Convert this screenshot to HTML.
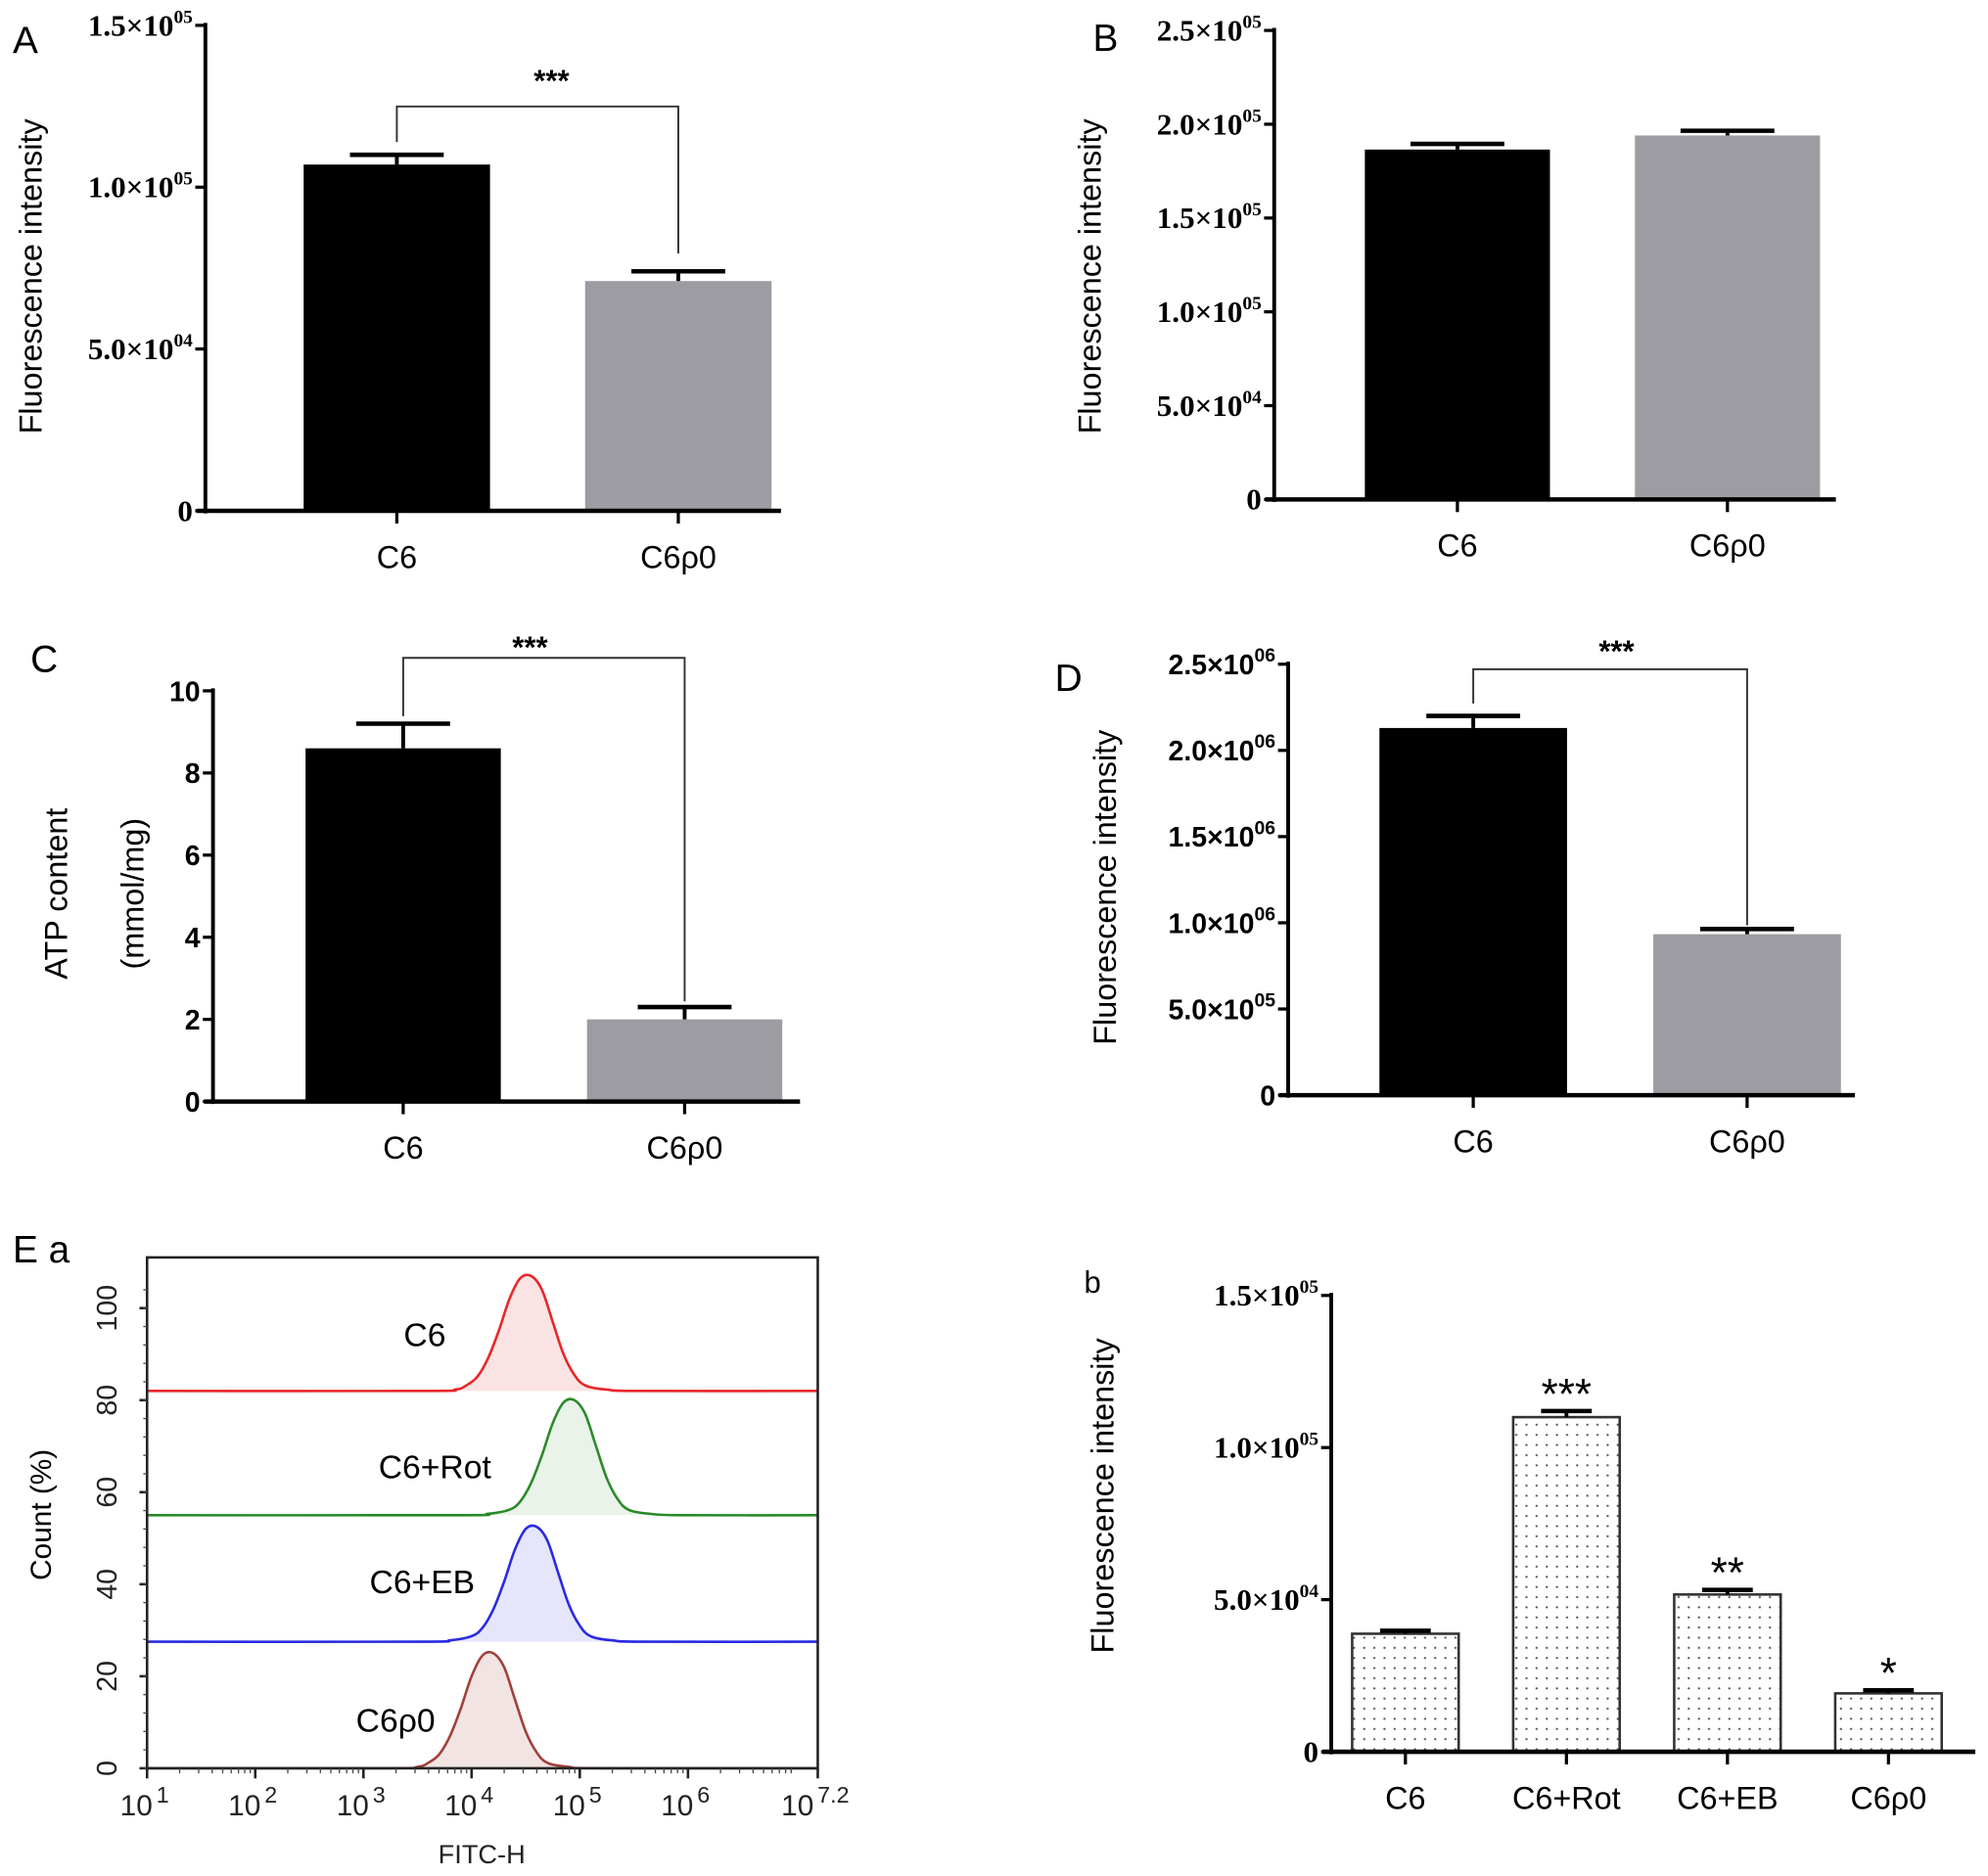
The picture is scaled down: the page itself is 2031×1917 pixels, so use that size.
<!DOCTYPE html>
<html><head><meta charset="utf-8"><style>
html,body{margin:0;padding:0;background:#fff;}
svg{display:block;}
text{font-family:"Liberation Sans",sans-serif;}
.tk{font-family:"Liberation Serif",serif;font-weight:bold;font-size:24px;}
.tks{font-family:"Liberation Sans",sans-serif;font-weight:bold;font-size:22px;}
.cat{font-size:25px;}
.ttl{font-size:24px;}
</style></head><body>
<svg id="fig" width="2031" height="1917" viewBox="0 0 1568 1480" preserveAspectRatio="none" xmlns="http://www.w3.org/2000/svg">
<defs>
<pattern id="dots" width="8" height="8" patternUnits="userSpaceOnUse"><rect width="8" height="8" fill="#fff"/><circle cx="4" cy="4" r="0.9" fill="#555"/></pattern>
</defs>
</svg>
<script>
// ---- data ----
const catsA=["C6","C6ρ0"], valsA=[1.07e5,0.71e5], errA=[0.03e5,0.03e5];
const ticksA=[0,5e4,1e5,1.5e5], tickLabA=["0","5.0×10|04","1.0×10|05","1.5×10|05"];
const catsB=["C6","C6ρ0"], valsB=[1.865e5,1.94e5], errB=[0.03e5,0.025e5];
const ticksB=[0,5e4,1e5,1.5e5,2e5,2.5e5], tickLabB=["0","5.0×10|04","1.0×10|05","1.5×10|05","2.0×10|05","2.5×10|05"];
const catsC=["C6","C6ρ0"], valsC=[8.6,2.0], errC=[0.6,0.3];
const ticksC=[0,2,4,6,8,10], tickLabC=["0","2","4","6","8","10"];
const catsD=["C6","C6ρ0"], valsD=[2.13e6,0.934e6], errD=[0.07e6,0.03e6];
const ticksD=[0,5e5,1e6,1.5e6,2e6,2.5e6], tickLabD=["0","5.0×10|05","1.0×10|06","1.5×10|06","2.0×10|06","2.5×10|06"];
const catsEb=["C6","C6+Rot","C6+EB","C6ρ0"], valsEb=[3.88e4,1.10e5,5.17e4,1.92e4], errEb=[0.1e4,0.2e4,0.15e4,0.1e4];
const starsEb=["","***","**","*"];
const ticksEb=[0,5e4,1e5,1.5e5], tickLabEb=["0","5.0×10|04","1.0×10|05","1.5×10|05"];
// flow histograms: log10 positions and counts (% above offset)
const histNames=["C6","C6+Rot","C6+EB","C6ρ0"];
const histOffsets=[82,55,27.5,0];
const histColors=["#e8262a","#2a8a2a","#2a2ae0","#a0403a"];
const histFills=["rgba(232,38,42,0.13)","rgba(42,138,42,0.1)","rgba(42,42,224,0.12)","rgba(160,64,58,0.14)"];
const histX0=[3.55,3.85,3.95,4.05,4.15,4.25,4.35,4.45,4.55,4.65,4.75,4.85,4.95,5.05,5.25,5.55];
const histY0=[0,0.3,1.2,3,7,13,20,24.5,25,22,15,8,3.5,1.2,0.3,0];
const histX1=[3.85,4.15,4.35,4.45,4.55,4.65,4.75,4.85,4.95,5.05,5.15,5.25,5.35,5.45,5.65,5.95];
const histY1=[0,0.3,1.2,3,7,13,20,24.5,25,22,15,8,3.5,1.2,0.3,0];
const histX2=[3.5,3.8,4.0,4.1,4.2,4.3,4.4,4.5,4.6,4.7,4.8,4.9,5.0,5.1,5.3,5.6];
const histY2=[0,0.3,1.2,3,7,13,20,24.5,25,22,15,8,3.5,1.2,0.3,0];
const histX3=[3.2,3.5,3.6,3.7,3.8,3.9,4.0,4.1,4.2,4.3,4.4,4.5,4.6,4.7,4.9,5.2];
const histY3=[0,0.3,1.2,3,7,13,20,24.5,25,22,15,8,3.5,1.2,0.3,0];
const histLabelPos=[[335,1062],[343,1166],[333,1257],[312,1366]];
const xTicksE=[1,2,3,4,5,6,7.2], xTickLabE=["1","2","3","4","5","6","7.2"];
const yTicksE=[0,20,40,60,80,100];

const svg=document.getElementById('fig');
const NS="http://www.w3.org/2000/svg";
function el(tag,attrs,parent){const e=document.createElementNS(NS,tag);for(const k in attrs)e.setAttribute(k,attrs[k]);(parent||svg).appendChild(e);return e;}
function txt(s,x,y,cls,anchor,parent){const t=el('text',{x:x,y:y,'class':cls||'','text-anchor':anchor||'middle'},parent);t.textContent=s;return t;}
function sciLabel(lab,x,y,cls,g){
  const t=el('text',{x:x,y:y,'class':cls,'text-anchor':'end'},g);
  const p=lab.split('|');
  if(p.length===1){t.textContent=p[0];return t;}
  const a=document.createElementNS(NS,'tspan');a.textContent=p[0];t.appendChild(a);
  const b=document.createElementNS(NS,'tspan');b.setAttribute('dy','-10');b.setAttribute('font-size','15');b.textContent=p[1];t.appendChild(b);
  return t;
}
function bar(cfg){
  const g=el('g',{});
  
  
  const y=v=>cfg.y0-(v-0)/(cfg.ymax)*(cfg.y0-cfg.ytop);
  const xc=i=>cfg.x0+cfg.step*(i+0.5)+cfg.pad;
  cfg.vals.forEach((v,i)=>{
    const r=el('rect',{x:xc(i)-cfg.bw/2,y:y(v),width:cfg.bw,height:cfg.y0-y(v),fill:cfg.fills[i],stroke:cfg.stroke||'none','stroke-width':cfg.stroke?2:0},g);
    
    
    const e=y(v+cfg.errs[i]);
    el('line',{x1:xc(i),x2:xc(i),y1:y(v),y2:e,stroke:'#000','stroke-width':3},g);
    el('line',{x1:xc(i)-cfg.cw,x2:xc(i)+cfg.cw,y1:e,y2:e,stroke:'#000','stroke-width':3.5},g);
    el('line',{x1:xc(i),x2:xc(i),y1:cfg.y0,y2:cfg.y0+10,stroke:'#000','stroke-width':2.5},g);
    const lt=txt(cfg.cats[i],xc(i),cfg.y0+45,'cat','middle',g);
    
    
  });
  el('line',{x1:cfg.ax,x2:cfg.ax,y1:cfg.ytop-2,y2:cfg.y0+2,stroke:'#000','stroke-width':3},g);
  el('line',{x1:cfg.ax-7,x2:cfg.xend,y1:cfg.y0,y2:cfg.y0,stroke:'#000','stroke-width':3.5},g);
  cfg.ticks.forEach((t,i)=>{
    el('line',{x1:cfg.ax-8,x2:cfg.ax,y1:y(t),y2:y(t),stroke:'#000','stroke-width':2.5},g);
    const tl=sciLabel(cfg.tl[i],cfg.ax-10,y(t)+8,cfg.tcls,g);
    
    
  });
  return {g,y,xc};
}
function bracket(p,i,j,yb,dropI,dropJ,label,lx,ly){
  const d=`M${p.xc(i)},${dropI} V${yb} H${p.xc(j)} V${dropJ}`;
  el('path',{d:d,fill:'none',stroke:'#333','stroke-width':1.5},p.g);
  const s=txt(label,lx,ly,'','middle',p.g);s.setAttribute('font-size','24');s.setAttribute('font-weight','bold');
  
  
}
function rotLabel(s,x,y,parent,name,size){
  const t=el('text',{transform:`translate(${x},${y}) rotate(-90)`,'text-anchor':'middle','font-size':size||25},parent);
  t.textContent=s;
  
  
  return t;
}
function panelLetter(s,x,y){const t=txt(s,x,y,'','start');t.setAttribute('font-size','30');
  
  }

let pA=bar({name:'panel-a-chart',cats:catsA,vals:valsA,errs:errA,ticks:ticksA,tl:tickLabA,tcls:'tk',
  ax:162,xend:616,y0:403,ytop:20,ymax:1.5e5,x0:162,step:222,pad:40,bw:147,cw:37,fills:['#000','#9d9ca2']});
bracket(pA,0,1,84,112,200,'***',435,72);
rotLabel('Fluorescence intensity',33,218,svg,'y-axis-title-a');
panelLetter('A',10,42);
let pB=bar({name:'panel-b-chart',cats:catsB,vals:valsB,errs:errB,ticks:ticksB,tl:tickLabB,tcls:'tk',
  ax:1005,xend:1448,y0:394,ytop:24,ymax:2.5e5,x0:1005,step:213,pad:38,bw:146,cw:37,fills:['#000','#9d9ca2']});
rotLabel('Fluorescence intensity',868,218,svg,'y-axis-title-b');
panelLetter('B',862,40);
let pC=bar({name:'panel-c-chart',cats:catsC,vals:valsC,errs:errC,ticks:ticksC,tl:tickLabC,tcls:'tks',
  ax:168,xend:631,y0:869,ytop:545,ymax:10,x0:168,step:222,pad:39,bw:154,cw:37,fills:['#000','#9d9ca2']});
bracket(pC,0,1,519,565,790,'***',418,519);
rotLabel('ATP content',53,705,svg,'y-axis-title-c');
rotLabel('(mmol/mg)',113,705,svg,'y-axis-unit-c');
panelLetter('C',24,530);
let pD=bar({name:'panel-d-chart',cats:catsD,vals:valsD,errs:errD,ticks:ticksD,tl:tickLabD,tcls:'tks',
  ax:1016,xend:1463,y0:864,ytop:524,ymax:2.5e6,x0:1016,step:216,pad:38,bw:148,cw:37,fills:['#000','#9d9ca2']});
bracket(pD,0,1,528,555,730,'***',1275,522);
rotLabel('Fluorescence intensity',880,700,svg,'y-axis-title-d');
panelLetter('D',832,545);
let pEb=bar({name:'panel-eb-chart',cats:catsEb,vals:valsEb,errs:errEb,ticks:ticksEb,tl:tickLabEb,tcls:'tk',
  ax:1050,xend:1558,y0:1382,ytop:1022,ymax:1.5e5,x0:1050,step:127,pad:-5,bw:84,cw:20,fills:['url(#dots)','url(#dots)','url(#dots)','url(#dots)'],stroke:'#333'});
starsEb.forEach((s,i)=>{if(!s)return;const t=txt(s,pEb.xc(i),pEb.y(valsEb[i]+errEb[i])-2,'','middle',pEb.g);t.setAttribute('font-size','34');
  
  });
rotLabel('Fluorescence intensity',878,1180,svg,'y-axis-title-eb');
{const t=txt('b',855,1020,'','start');t.setAttribute('font-size','24');}

const gE=el('g',{});


const eL=116,eR=645,eT=992,eB=1395;
const ex=l=>eL+(l-1)/(7.2-1)*(eR-eL);
const ey=v=>eB-v/100*(eB-1032);
const HX=[histX0,histX1,histX2,histX3],HY=[histY0,histY1,histY2,histY3];
HX.forEach((xs,k)=>{
  const off=histOffsets[k];
  let pts=[[1,0]].concat(xs.map((l,i)=>[l,HY[k][i]])).concat([[7.2,0]]);
  const P=pts.map(p=>[ex(p[0]),ey(off+p[1])]);
  let d=`M${P[0][0]},${P[0][1]}`;
  for(let i=0;i<P.length-1;i++){const p0=P[Math.max(i-1,0)],p1=P[i],p2=P[i+1],p3=P[Math.min(i+2,P.length-1)];
    d+=` C${p1[0]+(p2[0]-p0[0])/6},${p1[1]+(p2[1]-p0[1])/6} ${p2[0]-(p3[0]-p1[0])/6},${p2[1]-(p3[1]-p1[1])/6} ${p2[0]},${p2[1]}`;}
  el('path',{d:d+` L${eR},${ey(off)} L${eL},${ey(off)} Z`,fill:histFills[k],stroke:'none'},gE);
  const c=el('path',{d:d,fill:'none',stroke:histColors[k],'stroke-width':2},gE);
  
  
  const lt=txt(histNames[k],histLabelPos[k][0],histLabelPos[k][1],'','middle',gE);lt.setAttribute('font-size','26');
  
  
});
el('rect',{x:eL,y:eT,width:eR-eL,height:eB-eT,fill:'none',stroke:'#222','stroke-width':2},gE);
yTicksE.forEach(v=>{
  el('line',{x1:eL-6,x2:eL,y1:ey(v),y2:ey(v),stroke:'#222','stroke-width':2},gE);
  const t=el('text',{transform:`translate(${eL-24},${ey(v)}) rotate(-90)`,'text-anchor':'middle','font-size':22,fill:'#222'},gE);t.textContent=v;
  
  
});
for(let v=0;v<=105;v+=4){el('line',{x1:eL-3,x2:eL,y1:ey(v),y2:ey(v),stroke:'#444','stroke-width':1},gE);}
xTicksE.forEach((l,i)=>{
  el('line',{x1:ex(l),x2:ex(l),y1:eB,y2:eB+8,stroke:'#222','stroke-width':2},gE);
  if(l<7.2){for(let m=2;m<10;m++){const xm=ex(l+Math.log10(m));el('line',{x1:xm,x2:xm,y1:eB,y2:eB+4,stroke:'#444','stroke-width':1},gE);}}
  const t=el('text',{x:ex(l)-2,y:eB+37,'text-anchor':'middle','font-size':23,fill:'#222'},gE);
  const a=document.createElementNS(NS,'tspan');a.textContent='10';t.appendChild(a);
  const b=document.createElementNS(NS,'tspan');b.setAttribute('dy','-10');b.setAttribute('font-size','18');b.setAttribute('dx','3');b.textContent=xTickLabE[i];t.appendChild(b);
  
  
});
{const t=txt('FITC-H',380,1470,'','middle',gE);t.setAttribute('font-size','21');t.setAttribute('fill','#222');}
rotLabel('Count  (%)',40,1195,gE,'y-axis-title-ea',23);
{const t=txt('E a',10,996,'','start');t.setAttribute('font-size','30');}
</script>
</body></html>
